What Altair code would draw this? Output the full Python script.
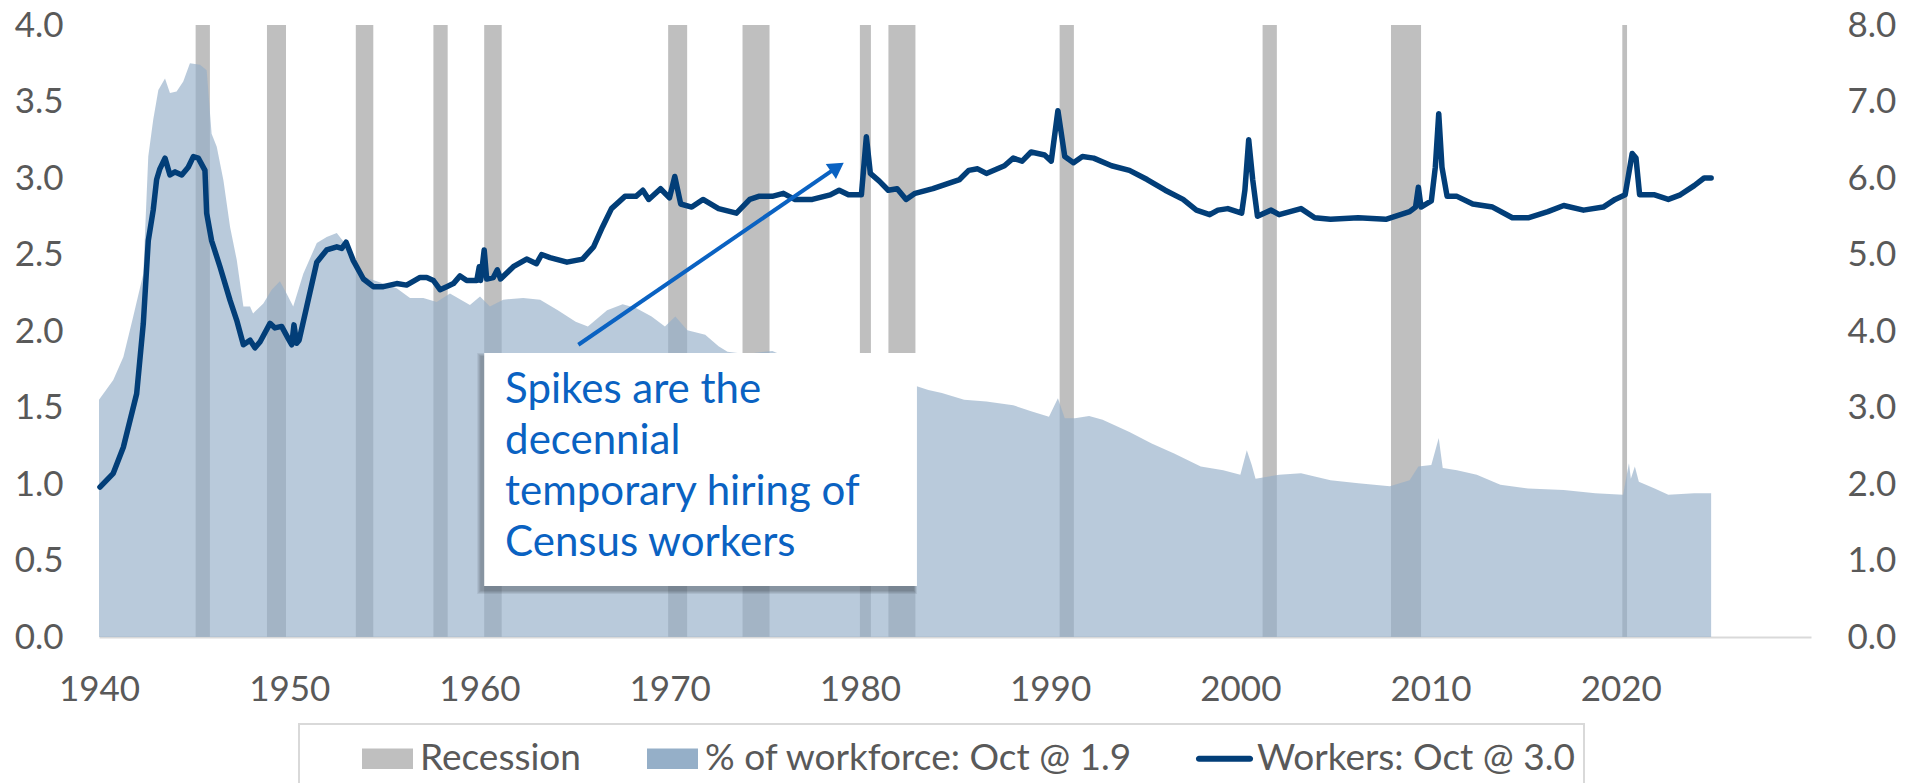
import math
import altair as alt
import pandas as pd

# ------------------------------------------------------------------ data
recession_start = [1945.08, 1948.83, 1953.50, 1957.58, 1960.25, 1969.92, 1973.83,
                   1980.00, 1981.50, 1990.50, 2001.17, 2007.92, 2020.08]
recession_end = [1945.83, 1949.83, 1954.42, 1958.33, 1961.17, 1970.92, 1975.25,
                 1980.58, 1982.92, 1991.25, 2001.92, 2009.50, 2020.33]

workers_year = [1940.05, 1940.75, 1941.28, 1941.98, 1942.33, 1942.59, 1942.85, 1943.03,
                1943.20, 1943.47, 1943.73, 1944.00, 1944.35, 1944.69, 1944.96, 1945.22,
                1945.57, 1945.66, 1945.92, 1946.36, 1946.89, 1947.24, 1947.59, 1947.94,
                1948.20, 1948.47, 1948.99, 1949.25, 1949.60, 1949.95, 1950.13, 1950.25,
                1950.39, 1950.52, 1950.92, 1951.45, 1951.97, 1952.50, 1952.76, 1952.99,
                1953.37, 1953.90, 1954.42, 1954.95, 1955.65, 1956.17, 1956.88, 1957.23,
                1957.58, 1957.93, 1958.28, 1958.63, 1958.98, 1959.33, 1959.86, 1959.99,
                1960.06, 1960.25, 1960.38, 1960.73, 1960.94, 1961.11, 1961.78, 1962.48,
                1963.00, 1963.27, 1963.71, 1964.60, 1965.42, 1966.00, 1966.47, 1966.94,
                1967.65, 1968.23, 1968.59, 1968.90, 1969.52, 1969.99, 1970.27, 1970.58,
                1971.16, 1971.75, 1972.57, 1973.51, 1974.21, 1974.68, 1975.39, 1975.98,
                1976.57, 1977.50, 1978.44, 1978.91, 1979.40, 1980.08, 1980.34, 1980.55,
                1981.02, 1981.49, 1981.96, 1982.43, 1982.90, 1983.84, 1984.77, 1985.24,
                1985.72, 1986.19, 1986.65, 1987.60, 1988.06, 1988.53, 1989.00, 1989.71,
                1990.06, 1990.41, 1990.77, 1991.23, 1991.70, 1992.29, 1993.23, 1994.17,
                1995.10, 1996.05, 1996.99, 1997.69, 1998.39, 1998.82, 1999.34, 2000.07,
                2000.24, 2000.44, 2000.65, 2000.90, 2001.62, 2002.04, 2003.19, 2003.91,
                2004.74, 2006.20, 2007.65, 2008.90, 2009.21, 2009.36, 2009.50, 2010.04,
                2010.25, 2010.43, 2010.60, 2010.87, 2011.39, 2012.22, 2013.26, 2014.30,
                2015.13, 2016.17, 2017.00, 2018.04, 2019.08, 2019.70, 2020.23, 2020.60,
                2020.80, 2020.99, 2021.78, 2022.50, 2023.13, 2023.86, 2024.38, 2024.75]
workers_mn = [0.98, 1.07, 1.24, 1.59, 2.05, 2.59, 2.79, 2.99,
              3.06, 3.13, 3.02, 3.04, 3.02, 3.07, 3.14, 3.13,
              3.05, 2.77, 2.59, 2.42, 2.20, 2.07, 1.91, 1.94,
              1.89, 1.93, 2.05, 2.02, 2.03, 1.95, 1.91, 2.04,
              1.92, 1.94, 2.16, 2.45, 2.53, 2.55, 2.54, 2.58,
              2.46, 2.34, 2.29, 2.29, 2.31, 2.30, 2.35, 2.35,
              2.33, 2.27, 2.29, 2.31, 2.36, 2.33, 2.33, 2.42,
              2.33, 2.53, 2.34, 2.35, 2.40, 2.34, 2.42, 2.47,
              2.44, 2.50, 2.48, 2.45, 2.47, 2.55, 2.68, 2.80,
              2.88, 2.88, 2.92, 2.86, 2.93, 2.87, 3.01, 2.83,
              2.81, 2.86, 2.80, 2.77, 2.86, 2.88, 2.88, 2.90,
              2.86, 2.86, 2.89, 2.92, 2.89, 2.89, 3.27, 3.03,
              2.98, 2.92, 2.93, 2.86, 2.90, 2.93, 2.97, 2.99,
              3.05, 3.06, 3.03, 3.08, 3.13, 3.11, 3.17, 3.15,
              3.11, 3.44, 3.14, 3.10, 3.14, 3.13, 3.08, 3.05,
              2.99, 2.92, 2.86, 2.79, 2.76, 2.79, 2.80, 2.77,
              2.92, 3.25, 2.99, 2.75, 2.79, 2.76, 2.80, 2.74,
              2.73, 2.74, 2.73, 2.78, 2.81, 2.94, 2.81, 2.85,
              3.07, 3.42, 3.07, 2.88, 2.88, 2.83, 2.81, 2.74,
              2.74, 2.78, 2.82, 2.79, 2.81, 2.86, 2.89, 3.16,
              3.13, 2.89, 2.89, 2.86, 2.89, 2.95, 3.00, 3.00]

share_year = [1940.00, 1940.75, 1941.28, 1941.80, 1942.33, 1942.59, 1942.85, 1943.12,
              1943.47, 1943.73, 1944.08, 1944.43, 1944.78, 1945.31, 1945.66, 1945.92,
              1946.19, 1946.54, 1946.89, 1947.24, 1947.59, 1947.94, 1948.10, 1948.64,
              1949.08, 1949.51, 1949.86, 1950.21, 1950.74, 1951.45, 1951.97, 1952.50,
              1952.85, 1953.37, 1953.90, 1954.60, 1955.65, 1956.35, 1957.05, 1957.75,
              1958.45, 1959.50, 1960.03, 1960.55, 1961.25, 1962.30, 1963.19, 1964.12,
              1965.06, 1965.70, 1966.71, 1967.53, 1968.23, 1969.05, 1969.75, 1970.30,
              1970.93, 1971.87, 1972.57, 1973.04, 1974.00, 1975.40, 1976.50, 1977.50,
              1978.50, 1979.50, 1980.30, 1980.60, 1981.50, 1982.40, 1982.95, 1983.60,
              1984.31, 1985.48, 1986.65, 1988.06, 1989.00, 1989.94, 1990.41, 1990.77,
              1991.30, 1992.05, 1992.76, 1994.17, 1995.34, 1996.52, 1997.92, 1999.10,
              2000.00, 2000.34, 2000.60, 2000.80, 2002.04, 2003.19, 2004.74, 2006.20,
              2007.86, 2008.90, 2009.36, 2010.04, 2010.43, 2010.64, 2011.39, 2012.43,
              2013.67, 2015.13, 2017.00, 2018.66, 2020.12, 2020.43, 2020.53, 2020.74,
              2020.95, 2021.78, 2022.50, 2023.86, 2024.75]
share_pct = [3.10, 3.36, 3.66, 4.19, 4.75, 6.28, 6.76, 7.15,
             7.30, 7.11, 7.13, 7.26, 7.50, 7.48, 7.41, 6.58,
             6.41, 5.97, 5.36, 4.93, 4.32, 4.32, 4.23, 4.36,
             4.54, 4.65, 4.49, 4.32, 4.75, 5.15, 5.23, 5.28,
             5.17, 4.93, 4.71, 4.65, 4.56, 4.43, 4.43, 4.38,
             4.49, 4.34, 4.45, 4.32, 4.41, 4.43, 4.41, 4.27,
             4.12, 4.06, 4.27, 4.35, 4.30, 4.19, 4.06, 4.19,
             4.01, 3.95, 3.80, 3.73, 3.70, 3.74, 3.62, 3.55,
             3.50, 3.45, 3.72, 3.45, 3.40, 3.32, 3.28, 3.23,
             3.19, 3.10, 3.08, 3.03, 2.95, 2.88, 3.12, 2.86,
             2.86, 2.89, 2.84, 2.68, 2.53, 2.40, 2.23, 2.18,
             2.12, 2.44, 2.25, 2.07, 2.12, 2.14, 2.05, 2.01,
             1.97, 2.05, 2.23, 2.25, 2.60, 2.21, 2.18, 2.12,
             1.99, 1.94, 1.92, 1.88, 1.86, 2.27, 2.07, 2.23,
             2.03, 1.94, 1.86, 1.88, 1.88]

series_names = ["Recession", "% of workforce: Oct @ 1.9", "Workers: Oct @ 3.0"]
series_colors = ["#bfbfbf", "#95afc8", "#023e78"]
x_tick_values = [1940, 1950, 1960, 1970, 1980, 1990, 2000, 2010, 2020]
left_tick_values = [0.0, 0.5, 1.0, 1.5, 2.0, 2.5, 3.0, 3.5, 4.0]
right_tick_values = [0, 1, 2, 3, 4, 5, 6, 7, 8]
note_lines = ["Spikes are the", "decennial", "temporary hiring of", "Census workers"]

# ------------------------------------------------------------------ layout / style
W, H = 1712, 612
X_DOMAIN = [1940, 2030]
YL_DOMAIN = [0, 4]
YR_DOMAIN = [0, 8]
YEARS_PER_PX = (X_DOMAIN[1] - X_DOMAIN[0]) / W
UNITS_PER_PX = (YL_DOMAIN[1] - YL_DOMAIN[0]) / H

FONT = "Lato"
TXT = "#595959"
NOTE_BLUE = "#0a62c2"
TICK_FS = 35
LEG_FS = 37
NOTE_FS = 42

BOX_X1, BOX_X2 = 1960.25, 1983.0
BOX_TOP, BOX_BOT = 1.856, 0.333
NOTE_X, NOTE_Y = 1961.35, 1.529
ARROW_FROM = (1965.2, 1.91)
ARROW_TIP = (1979.15, 3.10)

RECT_PATH = "M-1,-0.4H1V0.4H-1Z"
LINE_PATH = "M-1,-0.12H1A0.12,0.12 0 0 1 1,0.12H-1A0.12,0.12 0 0 1 -1,-0.12Z"
TAIL = "\u00a0" * 6   # widens the legend frame on the right, like the reference

xscale = alt.Scale(domain=X_DOMAIN, nice=False, zero=False)
yl_scale = alt.Scale(domain=YL_DOMAIN, nice=False)
yr_scale = alt.Scale(domain=YR_DOMAIN, nice=False)

xaxis = alt.Axis(values=x_tick_values, format="d", title=None, grid=False, ticks=False,
                 tickSize=0, labelPadding=35, labelFont=FONT, labelFontSize=TICK_FS,
                 labelColor=TXT, labelFlush=False, labelOverlap=False,
                 domainColor="#d9d9d9", domainWidth=2)
left_axis = alt.Axis(orient="left", values=left_tick_values, format=".1f", title=None,
                     grid=False, ticks=False, tickSize=0, domain=False, labelPadding=36,
                     labelFont=FONT, labelFontSize=TICK_FS, labelColor=TXT)
right_axis = alt.Axis(orient="right", values=right_tick_values, format=".1f", title=None,
                      grid=False, ticks=False, tickSize=0, domain=False, labelPadding=36,
                      labelFont=FONT, labelFontSize=TICK_FS, labelColor=TXT)

legend = alt.Legend(title=None, orient="none", legendX=200, legendY=699,
                    direction="horizontal", labelFont=FONT, labelFontSize=LEG_FS,
                    labelColor=TXT, labelOffset=7, labelLimit=0, symbolSize=2601,
                    symbolOpacity=1, symbolStrokeWidth=0, columnPadding=12,
                    padding=9, symbolOffset=54, strokeColor="#d9d9d9",
                    fillColor="white",
                    labelExpr=f"datum.value === '{series_names[2]}' ? datum.label + '{TAIL}' : datum.label")

# ------------------------------------------------------------------ frames
rec_df = pd.DataFrame({"start": recession_start, "end": recession_end})
share_df = pd.DataFrame({"year": share_year, "pct": share_pct})
workers_df = pd.DataFrame({"year": workers_year, "workers": workers_mn})
legend_df = pd.DataFrame({"series": series_names})

# soft shadow of the note box (offset left / down, a few stacked translucent rects)
shadow_rows = []
for i in range(1, 5):
    shadow_rows.append({
        "x1": BOX_X1 - (3 + i) * YEARS_PER_PX,
        "x2": BOX_X2 - (4 - i) * YEARS_PER_PX,
        "y1": BOX_TOP - (4 - i) * UNITS_PER_PX,
        "y2": BOX_BOT - (4 + i) * UNITS_PER_PX,
    })
shadow_df = pd.DataFrame(shadow_rows)

# arrow head geometry (computed in pixel space)
dx = (ARROW_TIP[0] - ARROW_FROM[0]) / YEARS_PER_PX
dy = (ARROW_TIP[1] - ARROW_FROM[1]) / UNITS_PER_PX
ln = math.hypot(dx, dy)
ux, uy = dx / ln, dy / ln
HEAD_R = 9.0
HEAD_H = math.sqrt(3) * HEAD_R
head_cx = ARROW_TIP[0] - ux * HEAD_H / 2 * YEARS_PER_PX
head_cy = ARROW_TIP[1] - uy * HEAD_H / 2 * UNITS_PER_PX
base_x = ARROW_TIP[0] - ux * (HEAD_H - 1) * YEARS_PER_PX
base_y = ARROW_TIP[1] - uy * (HEAD_H - 1) * UNITS_PER_PX
head_angle = math.degrees(math.atan2(ux, uy))


def xq(field):
    return alt.X(field, type="quantitative", scale=xscale, axis=xaxis)


def xd(value):
    return alt.XDatum(value, type="quantitative", scale=xscale, axis=xaxis)


# ------------------------------------------------------------------ layers
recession = alt.Chart(rec_df).mark_rect(color=series_colors[0]).encode(
    x=xq("start"),
    x2="end:Q",
)

share = alt.Chart(share_df).mark_area(color=series_colors[1], opacity=0.66,
                                      interpolate="linear").encode(
    x=xq("year"),
    y=alt.Y("pct:Q", scale=yr_scale, axis=right_axis, stack=None),
)

workers = alt.Chart(workers_df).mark_line(color=series_colors[2], strokeWidth=5.5,
                                          strokeCap="round", strokeJoin="round").encode(
    x=xq("year"),
    y=alt.Y("workers:Q", scale=yl_scale, axis=left_axis),
)

shadow = alt.Chart(shadow_df).mark_rect(color="#000000", opacity=0.07).encode(
    x=xq("x1"),
    x2="x2:Q",
    y=alt.Y("y1:Q", scale=yl_scale, axis=None),
    y2="y2:Q",
)

box = alt.Chart(legend_df.head(1)).mark_rect(color="white").encode(
    x=xd(BOX_X1),
    x2=alt.X2Datum(BOX_X2),
    y=alt.YDatum(BOX_TOP, type="quantitative", scale=yl_scale, axis=None),
    y2=alt.Y2Datum(BOX_BOT),
)

arrow = alt.Chart(legend_df.head(1)).mark_rule(color=NOTE_BLUE, strokeWidth=4).encode(
    x=xd(ARROW_FROM[0]),
    x2=alt.X2Datum(base_x),
    y=alt.YDatum(ARROW_FROM[1], type="quantitative", scale=yl_scale, axis=None),
    y2=alt.Y2Datum(base_y),
)

head = alt.Chart(legend_df.head(1)).mark_point(shape="triangle-up", filled=True,
                                               color=NOTE_BLUE, opacity=1,
                                               size=(2 * HEAD_R) ** 2,
                                               angle=round(head_angle, 1)).encode(
    x=xd(head_cx),
    y=alt.YDatum(head_cy, type="quantitative", scale=yl_scale, axis=None),
)

note = alt.Chart(legend_df.head(1)).mark_text(text=note_lines, align="left",
                                              baseline="alphabetic", font=FONT,
                                              fontSize=NOTE_FS, color=NOTE_BLUE,
                                              lineHeight=51).encode(
    x=xd(NOTE_X),
    y=alt.YDatum(NOTE_Y, type="quantitative", scale=yl_scale, axis=None),
)

# invisible points that carry the legend (colour + symbol shape per series)
legend_layer = alt.Chart(legend_df).mark_point(filled=True, opacity=0).encode(
    x=xd(1970.0),
    y=alt.YDatum(1.0, type="quantitative", scale=yl_scale, axis=None),
    color=alt.Color("series:N", scale=alt.Scale(domain=series_names, range=series_colors),
                    legend=legend),
    shape=alt.Shape("series:N", scale=alt.Scale(domain=series_names,
                                                range=[RECT_PATH, RECT_PATH, LINE_PATH]),
                    legend=legend),
)

chart = alt.layer(
    recession, share, workers, legend_layer, shadow, box, arrow, head, note
).resolve_scale(y="independent").properties(
    width=W, height=H,
    autosize=alt.AutoSizeParams(type="none"),
    padding={"left": 91, "top": 17, "right": 90, "bottom": 146},
    background="white",
).configure_view(stroke=None)

try:
    candidate = chart.configure_legend(strokeWidth=2)
    candidate.to_dict()
    chart = candidate
except Exception:
    pass

chart.save("out.html", embed_options={"renderer": "svg", "actions": False})
